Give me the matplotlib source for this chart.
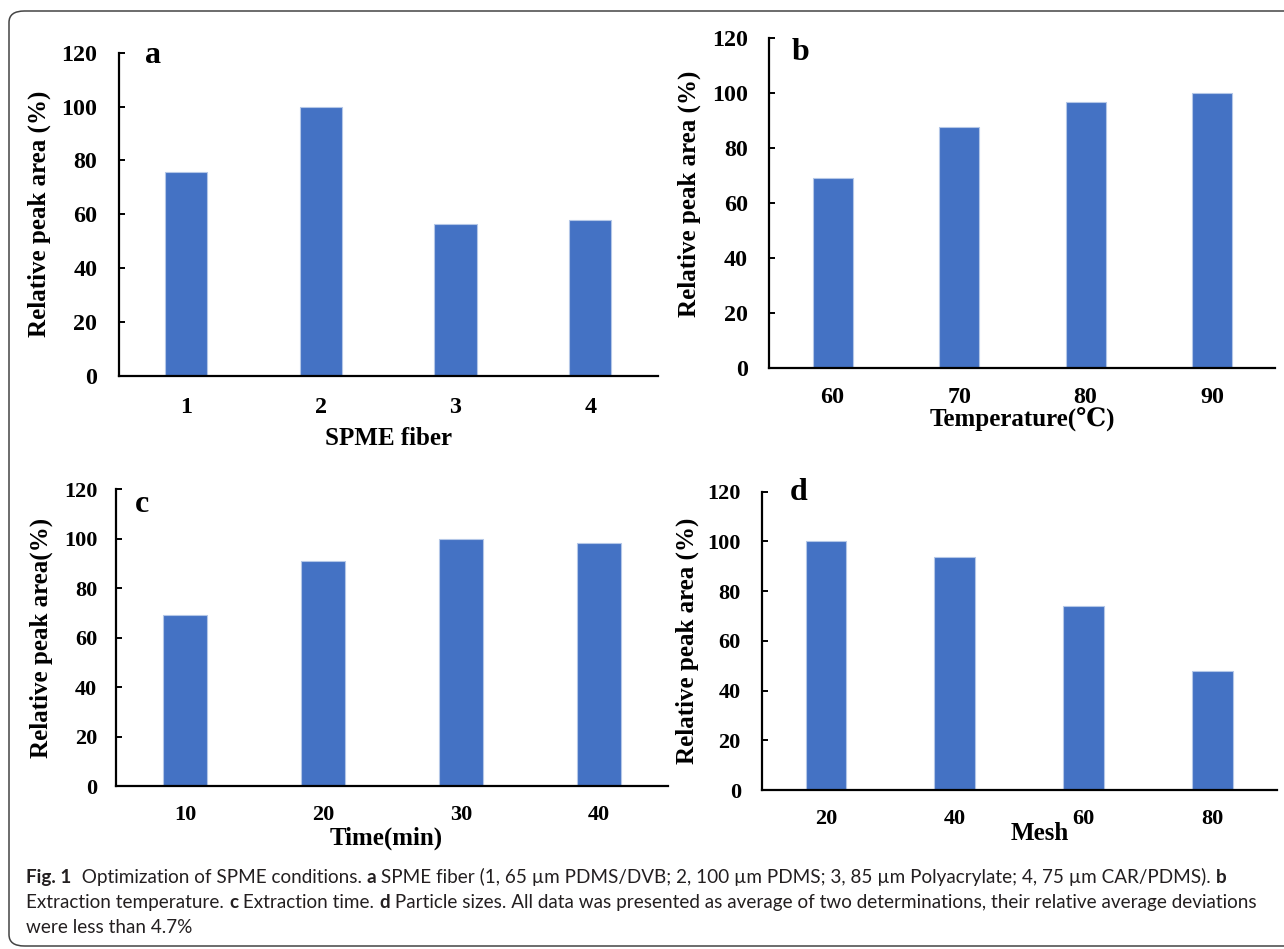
import matplotlib
matplotlib.use("Agg")
import matplotlib.pyplot as plt
from matplotlib.patches import FancyBboxPatch

# data
fiber = ['1', '2', '3', '4']
fiber_area = [75.6, 100, 56.4, 58.0]
temp = ['60', '70', '80', '90']
temp_area = [69.2, 87.6, 96.7, 100]
times = ['10', '20', '30', '40']
time_area = [69.2, 91.2, 100, 98.1]
mesh = ['20', '40', '60', '80']
mesh_area = [100, 93.9, 73.9, 47.9]

W, H = 1284, 949
SERIF = ['Liberation Serif', 'DejaVu Serif']
BLUE = '#4472C4'

fig = plt.figure(figsize=(W / 100, H / 100), dpi=100)
fig.patch.set_facecolor('white')


def px_axes(left, right, top, bottom):
    # pixel box -> figure fraction
    return [left / W, 1 - bottom / H, (right - left) / W, (bottom - top) / H]


def panel(box, cats, vals, letter, letter_pos, ylabel, ylab_pos, xlabel, xlab_pos,
          tick_fs, ypad, xpad):
    ax = fig.add_axes(px_axes(*box))
    x = range(len(cats))
    ax.bar(x, vals, width=0.315, color=BLUE, edgecolor='#b4c7e7', linewidth=0.8, zorder=2)
    ax.set_xlim(-0.5, len(cats) - 0.5)
    ax.set_ylim(0, 120)
    ax.set_yticks(range(0, 121, 20))
    ax.set_xticks(list(x))
    ax.set_xticklabels(cats)
    for s in ['top', 'right']:
        ax.spines[s].set_visible(False)
    for s in ['left', 'bottom']:
        ax.spines[s].set_linewidth(1.6)
        ax.spines[s].set_color('black')
    ax.tick_params(axis='y', direction='in', length=4.5, width=1.4, pad=ypad,
                   labelsize=tick_fs)
    ax.tick_params(axis='x', length=0, pad=xpad, labelsize=tick_fs)
    for lab in ax.get_xticklabels() + ax.get_yticklabels():
        lab.set_fontfamily(SERIF)
        lab.set_fontweight('bold')
    ax.set_ylabel(ylabel, fontsize=18, fontfamily=SERIF, fontweight='bold')
    ax.yaxis.set_label_coords(*ylab_pos)
    ax.set_xlabel(xlabel, fontsize=18, fontfamily=SERIF, fontweight='bold')
    ax.xaxis.set_label_coords(*xlab_pos)
    ax.text(letter_pos[0], letter_pos[1], letter, transform=ax.transAxes,
            fontsize=23, fontfamily=SERIF, fontweight='bold', va='baseline', ha='left')
    return ax


panel((118.8, 657.6, 52.7, 375.7), fiber, fiber_area, 'a', (0.049, 0.968),
      'Relative peak area (%)', (-0.126, 0.5), 'SPME fiber', (0.5, -0.160),
      17.3, 15.5, 15)
panel((769.4, 1275.4, 38.3, 367.7), temp, temp_area, 'b', (0.0447, 0.934),
      'Relative peak area (%)', (-0.135, 0.529), 'Temperature(\u2103)', (0.5, -0.122),
      17.3, 15.5, 14)
panel((115.9, 668.3, 489.3, 786.0), times, time_area, 'c', (0.034, 0.923),
      'Relative peak area(%)', (-0.114, 0.5), 'Time(min)', (0.49, -0.138),
      16, 13.5, 13.5)
panel((761.6, 1276.7, 491.7, 790.0), mesh, mesh_area, 'd', (0.055, 0.972),
      'Relative peak area (%)', (-0.1206, 0.5), 'Mesh', (0.5405, -0.108),
      16, 15, 14)

# rounded frame around the figure
frame = FancyBboxPatch((9 / W, 1 - 946 / H), (1310 - 9) / W, (946 - 11) / H,
                       boxstyle='round,pad=0,rounding_size=0.012',
                       transform=fig.transFigure, facecolor='none',
                       edgecolor='#444444', linewidth=1.1)
fig.patches.append(frame)

# caption, drawn run by run so bold pieces sit inline
CAP = ['Lato', 'DejaVu Sans']
cap_fs = 13.6
lines = [
    [('Fig. 1', True), ('  Optimization of SPME conditions. ', False), ('a', True),
     (' SPME fiber (1, 65 \u00b5m PDMS/DVB; 2, 100 \u00b5m PDMS; 3, 85 \u00b5m Polyacrylate; '
      '4, 75 \u00b5m CAR/PDMS). ', False), ('b', True)],
    [('Extraction temperature. ', False), ('c', True), (' Extraction time. ', False),
     ('d', True), (' Particle sizes. All data was presented as average of two determinations, '
                   'their relative average deviations', False)],
    [('were less than 4.7%', False)],
]
baselines = [883, 908, 933]
renderer = fig.canvas.get_renderer()
for runs, yb in zip(lines, baselines):
    xp = 26.5
    for txt, bold in runs:
        t = fig.text(xp / W, 1 - yb / H, txt, fontsize=cap_fs, family=CAP,
                     fontweight='bold' if bold else 'normal', va='baseline', ha='left',
                     color='#231f20')
        bb = t.get_window_extent(renderer)
        xp = bb.x1

fig.savefig('out.png', dpi=100)
